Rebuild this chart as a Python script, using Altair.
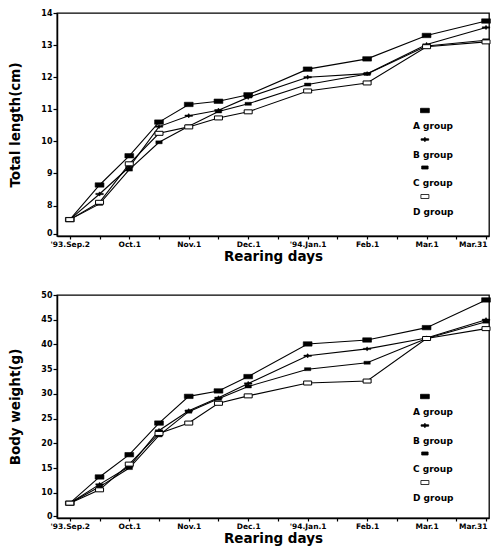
import json
import altair as alt
import pandas as pd

# ---- data ----
dates = ["'93.Sep.2", "Sep.16", "Oct.1", "Oct.16", "Nov.1", "Nov.16",
         "Dec.1", "'94.Jan.1", "Feb.1", "Mar.1", "Mar.31"]
xpos = [0, 0.5, 1, 1.5, 2, 2.5, 3, 4, 5, 6, 7]
tick_labels = ["'93.Sep.2", "Oct.1", "Nov.1", "Dec.1", "'94.Jan.1",
               "Feb.1", "Mar.1", "Mar.31"]
groups = ["A group", "B group", "C group", "D group"]

length_A = [7.56, 8.64, 9.55, 10.60, 11.15, 11.25, 11.45, 12.25, 12.57, 13.30, 13.75]
length_B = [7.56, 8.36, 9.20, 10.46, 10.80, 10.97, 11.37, 12.00, 12.11, 13.02, 13.55]
length_C = [7.56, 8.05, 9.12, 9.97, 10.47, 10.93, 11.17, 11.77, 12.10, 12.97, 13.15]
length_D = [7.56, 8.10, 9.30, 10.25, 10.45, 10.73, 10.92, 11.57, 11.82, 12.95, 13.10]

weight_A = [7.9, 13.2, 17.7, 24.1, 29.5, 30.6, 33.5, 40.1, 40.9, 43.4, 49.0]
weight_B = [7.9, 11.7, 15.3, 22.6, 26.6, 29.2, 32.1, 37.7, 39.1, 41.3, 45.0]
weight_C = [7.9, 11.2, 15.0, 21.6, 26.4, 29.0, 31.5, 35.0, 36.3, 41.2, 44.6]
weight_D = [7.9, 10.6, 15.8, 22.0, 24.1, 28.1, 29.6, 32.2, 32.6, 41.2, 43.2]

length_ticks = [7.12, 8, 9, 10, 11, 12, 13, 14]
weight_ticks = [5.23, 10, 15, 20, 25, 30, 35, 40, 45, 50]

FONT = "DejaVu Sans"

# marker shapes (unit paths) for the plotted points
marker_paths = {
    "A group": "M-1.1,-0.55H1.1V0.55H-1.1Z",
    "B group": "M-0.95,-0.18H-0.3L0,-0.55L0.3,-0.18H0.95V0.18H0.3L0,0.55L-0.3,0.18H-0.95Z",
    "C group": "M-0.8,-0.38H0.8V0.38H-0.8Z",
    "D group": "M-1.0,-0.5H1.0V0.5H-1.0Z",
}
marker_fill = {"A group": "black", "B group": "black", "C group": "black", "D group": "white"}
marker_sw = {"A group": 0.6, "B group": 0.4, "C group": 0.4, "D group": 1.0}


def legend_path(p, dx=4.1, dy=-3.75):
    # same symbols, drawn above and to the right of their label start
    tokens = (p.replace("M", " M ").replace("H", " H ").replace("V", " V ")
              .replace("L", " L ").replace("Z", " Z ").split())
    out = []
    cmd = None
    for t in tokens:
        if t in ("M", "H", "V", "L", "Z"):
            cmd = t
            out.append(t)
        elif cmd in ("M", "L"):
            a, b = t.split(",")
            out.append(f"{float(a) + dx:.2f},{float(b) + dy:.2f}")
        elif cmd == "H":
            out.append(f"{float(t) + dx:.2f}")
        elif cmd == "V":
            out.append(f"{float(t) + dy:.2f}")
    return "".join(out)


legend_paths = [legend_path(marker_paths[g]) for g in groups]
legend_fills = [marker_fill[g] for g in groups]


def make_df(series):
    rows = []
    for g, vals in zip(groups, series):
        for d, xp, v in zip(dates, xpos, vals):
            rows.append({"date": d, "x": xp, "group": g, "value": v})
    return pd.DataFrame(rows)


x_label_expr = ("datum.value % 1 == 0 ? " + json.dumps(tick_labels) +
                "[datum.value] : ''")

PLOT_W = 432


def panel(df, ytitle, ydomain, yticks, height, legend_y):
    base = alt.Chart(df)
    x = alt.X("x:Q",
              scale=alt.Scale(domain=[-0.2156, 7.05], nice=False, zero=False),
              axis=alt.Axis(values=[i * 0.5 for i in range(15)],
                            labelExpr=x_label_expr, title="Rearing days",
                            tickSize=3, labelPadding=1, titlePadding=2,
                            labelFontSize=7.5, labelFlush=12,
                            labelFlushOffset=1, labelOverlap=False))
    y = alt.Y("value:Q",
              scale=alt.Scale(domain=ydomain, nice=False, zero=False),
              axis=alt.Axis(values=yticks,
                            labelExpr=f"datum.value < {yticks[0] + 0.01} ? '0' : datum.label",
                            title=ytitle, tickSize=4, labelPadding=1,
                            titlePadding=18, labelFontSize=8,
                            labelOverlap=False))
    lines = base.mark_line(color="black", strokeWidth=1.1).encode(
        x=x, y=y, detail="group:N", order="x:Q")
    layers = [lines]
    for g in groups:
        layers.append(
            base.transform_filter(alt.datum.group == g).mark_point(
                shape=marker_paths[g], size=64, filled=True, opacity=1,
                fill=marker_fill[g], stroke="black", strokeWidth=marker_sw[g]
            ).encode(x=x, y=y)
        )
    leg = alt.Legend(title=None, orient="none", legendX=347, legendY=legend_y,
                     direction="vertical", symbolSize=64,
                     symbolStrokeWidth=0.8,
                     labelFont=FONT, labelFontSize=9, labelFontWeight="bold",
                     labelColor="black", labelOffset=0, rowPadding=4,
                     padding=0)
    legend_layer = base.transform_filter("false").mark_point(
        filled=True, opacity=1, size=64
    ).encode(
        shape=alt.Shape("group:N", scale=alt.Scale(domain=groups, range=legend_paths), legend=leg),
        fill=alt.Fill("group:N", scale=alt.Scale(domain=groups, range=legend_fills), legend=leg),
        stroke=alt.Stroke("group:N", scale=alt.Scale(domain=groups, range=["black"] * 4), legend=leg),
    )
    layers.append(legend_layer)
    return alt.layer(*layers).properties(width=PLOT_W, height=height)


top = panel(make_df([length_A, length_B, length_C, length_D]),
            "Total length(cm)", [7.05, 14.0], length_ticks, 223, 108)
bottom = panel(make_df([weight_A, weight_B, weight_C, weight_D]),
               "Body weight(g)", [4.9, 50.0], weight_ticks, 223, 112)

chart = alt.vconcat(top, bottom, spacing=59, bounds="flush").resolve_scale(
    shape="independent", fill="independent", stroke="independent"
).resolve_legend(
    shape="independent", fill="independent", stroke="independent"
).properties(
    padding={"left": 0, "top": 0, "right": 0, "bottom": 0}
).configure(font=FONT).configure_axis(
    grid=False, domainColor="black", domainWidth=1.5, tickColor="black",
    tickWidth=1.2, labelColor="black", titleColor="black",
    labelFont=FONT, titleFont=FONT, labelFontWeight="bold",
    titleFontWeight="bold", titleFontSize=13.5, labelOverlap=False
).configure_view(stroke="black", strokeWidth=1.3)

chart.save("out.html", embed_options={"renderer": "svg", "actions": False})
